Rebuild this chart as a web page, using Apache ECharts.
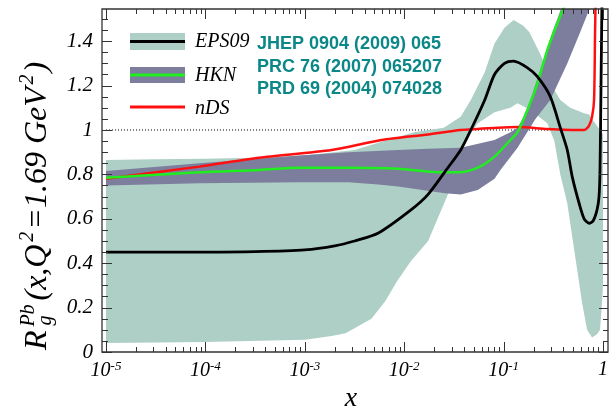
<!DOCTYPE html>
<html>
<head>
<meta charset="utf-8">
<script src="https://cdn.jsdelivr.net/npm/echarts@6.0.0/dist/echarts.min.js"></script>
<style>
html,body{margin:0;padding:0;background:#fff;}
#chart{width:611px;height:409px;}
</style>
</head>
<body>
<div id="chart"></div>
<script>
// ---------------- data ----------------
const xTicksMajor = [1e-5, 1e-4, 1e-3, 1e-2, 1e-1, 1];
const yTicksMajor = [0, 0.2, 0.4, 0.6, 0.8, 1, 1.2, 1.4];
const refLineY = [1];

// EPS09 central value
const eps09X = [1e-5, 1e-4, 3.16e-4, 1e-3, 2e-3, 3.16e-3, 5.5e-3, 1.17e-2, 1.74e-2, 2.75e-2, 3.7e-2, 4.68e-2, 6.46e-2, 8.1e-2, 0.102, 0.126, 0.174, 0.219, 0.295, 0.372, 0.437, 0.49, 0.575, 0.646, 0.724, 0.794, 0.871, 0.912, 0.933, 0.955, 0.977];
const eps09Y = [0.45, 0.45, 0.452, 0.46, 0.478, 0.50, 0.536, 0.64, 0.71, 0.83, 0.91, 1.0, 1.135, 1.25, 1.30, 1.31, 1.28, 1.24, 1.15, 1.01, 0.91, 0.79, 0.67, 0.60, 0.58, 0.59, 0.64, 0.70, 0.82, 1.2, 1.6];

// EPS09 uncertainty band
const eps09UpX = [1e-5, 3.16e-5, 1e-4, 3.16e-4, 1e-3, 3.16e-3, 6.3e-3, 1.26e-2, 2.5e-2, 3.7e-2, 4.68e-2, 6.46e-2, 8.1e-2, 0.102, 0.126, 0.158, 0.182, 0.229, 0.269, 0.324, 0.372, 0.468, 0.646, 0.724, 0.832, 0.933, 1];
const eps09UpY = [0.865, 0.868, 0.87, 0.875, 0.885, 0.91, 0.95, 0.99, 1.01, 1.06, 1.135, 1.26, 1.39, 1.46, 1.495, 1.47, 1.44, 1.35, 1.28, 1.18, 1.135, 1.10, 1.075, 1.07, 1.03, 1.0, 0.98];
const eps09LoX = [1e-5, 1e-4, 1e-3, 1.86e-3, 2.57e-3, 4.68e-3, 6.46e-3, 8.5e-3, 1.17e-2, 1.74e-2, 2.75e-2, 3.7e-2, 5.5e-2, 8.1e-2, 0.117, 0.138, 0.186, 0.275, 0.324, 0.372, 0.437, 0.49, 0.55, 0.617, 0.692, 0.776, 0.871, 0.933, 0.977, 1];
const eps09LoY = [0.04, 0.045, 0.055, 0.072, 0.085, 0.15, 0.23, 0.32, 0.41, 0.50, 0.71, 0.92, 1.03, 1.08, 1.10, 1.12, 1.09, 1.03, 0.95, 0.80, 0.67, 0.52, 0.37, 0.22, 0.10, 0.065, 0.08, 0.10, 0.22, 0.3];

// HKN central value
const hknX = [1e-5, 8.7e-5, 3.47e-4, 8.7e-4, 2.75e-3, 8.7e-3, 2.19e-2, 3.7e-2, 5.5e-2, 8.1e-2, 0.117, 0.138, 0.174, 0.219, 0.275, 0.347, 0.437];
const hknY = [0.785, 0.81, 0.82, 0.83, 0.83, 0.825, 0.81, 0.81, 0.83, 0.88, 0.955, 0.99, 1.09, 1.21, 1.36, 1.48, 1.59];

// HKN uncertainty band
const hknUpX = [1e-5, 8.7e-5, 3.47e-4, 8.7e-4, 2.75e-3, 8.7e-3, 1.74e-2, 3.7e-2, 8.1e-2, 0.117, 0.138, 0.155, 0.186, 0.245, 0.309, 0.389, 0.45];
const hknUpY = [0.815, 0.85, 0.87, 0.885, 0.90, 0.91, 0.915, 0.92, 0.955, 0.99, 1.01, 1.05, 1.135, 1.30, 1.44, 1.56, 1.65];
const hknLoX = [1e-5, 8.7e-5, 8.7e-4, 2.75e-3, 5.5e-3, 8.7e-3, 2.57e-2, 3.7e-2, 5.5e-2, 8.1e-2, 9.3e-2, 0.138, 0.209, 0.295, 0.437, 0.589, 0.724, 0.832];
const hknLoY = [0.75, 0.76, 0.765, 0.765, 0.755, 0.745, 0.715, 0.71, 0.73, 0.78, 0.82, 0.92, 1.05, 1.135, 1.30, 1.44, 1.54, 1.62];

// nDS
const ndsX = [1e-5, 8.7e-5, 3.47e-4, 1.86e-3, 5.9e-3, 1.74e-2, 3.7e-2, 8.7e-2, 0.138, 0.275, 0.589, 0.646, 0.724, 0.776, 0.813, 0.832, 0.851];
const ndsY = [0.78, 0.835, 0.875, 0.91, 0.955, 0.98, 1.0, 1.01, 1.013, 1.005, 1.0, 1.0, 1.02, 1.06, 1.135, 1.44, 1.7];

const legendNames = ['EPS09', 'HKN', 'nDS'];
const refTexts = ['JHEP 0904 (2009) 065', 'PRC 76 (2007) 065207', 'PRD 69 (2004) 074028'];
const xAxisTitle = 'x';

// ---------------- styling ----------------
const C_EPSBAND = '#adcfc6';
const C_HKNBAND = '#7d7d9d';
const C_BLACK = '#000000';
const C_GREEN = '#1fee1f';
const C_RED = '#ff1010';
const C_TEAL = '#0b8787';
const C_FRAME = '#333333';
const SERIF = '"Liberation Serif", "DejaVu Serif", serif';

// minor tick positions
const xTicksMinor = [];
for (let e = -5; e < 0; e++) for (let m = 2; m <= 9; m++) xTicksMinor.push(m * Math.pow(10, e));
const yTicksMinor = [];
for (let k = 1; k <= 30; k++) if (k % 4 !== 0) yTicksMinor.push(Math.round(k * 5) / 100);

const zip = (xs, ys) => xs.map((x, i) => [x, ys[i]]);

function clipPoly(pts, r) {
  const clipEdge = (poly, inside, inter) => {
    const out = [];
    for (let i = 0; i < poly.length; i++) {
      const a = poly[i], b = poly[(i + 1) % poly.length];
      const ia = inside(a), ib = inside(b);
      if (ia && ib) out.push(b);
      else if (ia && !ib) out.push(inter(a, b));
      else if (!ia && ib) { out.push(inter(a, b)); out.push(b); }
    }
    return out;
  };
  const ix = (a, b, x) => [x, a[1] + (b[1] - a[1]) * (x - a[0]) / (b[0] - a[0])];
  const iy = (a, b, y) => [a[0] + (b[0] - a[0]) * (y - a[1]) / (b[1] - a[1]), y];
  let p = pts;
  p = clipEdge(p, q => q[0] >= r.x, (a, b) => ix(a, b, r.x));
  p = clipEdge(p, q => q[0] <= r.x + r.width, (a, b) => ix(a, b, r.x + r.width));
  p = clipEdge(p, q => q[1] >= r.y, (a, b) => iy(a, b, r.y));
  p = clipEdge(p, q => q[1] <= r.y + r.height, (a, b) => iy(a, b, r.y + r.height));
  return p;
}

function bandSeries(name, upX, upY, loX, loY, color) {
  return {
    name: name, type: 'custom', coordinateSystem: 'cartesian2d',
    xAxisIndex: 0, yAxisIndex: 0, silent: true, clip: true, z: 2,
    data: [[upX[0], upY[0]]],
    renderItem: function (params, api) {
      if (params.dataIndex !== 0) return null;
      const pts = [];
      for (let i = 0; i < upX.length; i++) pts.push(api.coord([upX[i], upY[i]]));
      for (let i = loX.length - 1; i >= 0; i--) pts.push(api.coord([loX[i], loY[i]]));
      const cs = params.coordSys;
      const clipped = clipPoly(pts, { x: cs.x, y: cs.y, width: cs.width, height: cs.height });
      return { type: 'polygon', shape: { points: clipped }, style: { fill: color, stroke: null } };
    }
  };
}

function lineSeries(name, xs, ys, color, width) {
  return {
    name: name, type: 'line', xAxisIndex: 0, yAxisIndex: 0, z: 3,
    data: zip(xs, ys), showSymbol: false, symbol: 'none', smooth: 0.25,
    clip: true, lineStyle: { color: color, width: width }, silent: true
  };
}

const xFmt = v => {
  const e = Math.round(Math.log10(v));
  return e === 0 ? '{b|1}' : '{b|10}{s|' + e + '}';
};

// ---------------- y axis title (rotated, with sub/superscripts) ----------------
function buildYTitle() {
  const ctx = document.createElement('canvas').getContext('2d');
  const tw = (t, s) => { ctx.font = 'italic ' + s + 'px "Liberation Serif"'; return ctx.measureText(t).width; };
  const MAIN = 32, SMALL = 20;
  const items = [];
  const txt = (t, s, x, dy) => items.push({ t, s, x, dy });
  const pieces = [
    ['R', MAIN, 'main'],
    ['Pb|g', SMALL, 'supsub'],
    ['(x,Q', MAIN, 'main'],
    ['2', SMALL, 'sup'],
    ['=1.69 GeV', MAIN, 'main'],
    ['2', SMALL, 'sup'],
    [')', MAIN, 'main']
  ];
  const widths = pieces.map(p => p[2] === 'supsub' ? Math.max(tw('Pb', p[1]), tw('g', p[1])) : tw(p[0], p[1]));
  const natural = widths.reduce((a, b) => a + b, 0);
  const TARGET = 294;
  const gap = Math.min(5, Math.max(0, (TARGET - natural) / (pieces.length - 1)));
  let cx = 0;
  pieces.forEach((p, i) => {
    if (p[2] === 'main') txt(p[0], p[1], cx, 0);
    else if (p[2] === 'sup') txt(p[0], p[1], cx - 1, -10);
    else { txt('Pb', p[1], cx, -9); txt('g', p[1], cx + 1, 8); }
    cx += widths[i] + (p[2] === 'sup' ? 1 : gap);
  });
  return {
    type: 'group', x: 38, y: 350, rotation: Math.PI / 2,
    children: items.map(it => ({
      type: 'text', x: it.x, y: it.dy,
      style: {
        text: it.t, fontSize: it.s, fontStyle: 'italic', fontFamily: SERIF, fill: '#000',
        align: 'left', textAlign: 'left', verticalAlign: 'middle', textVerticalAlign: 'middle'
      }
    }))
  };
}

const legendFont = { fontSize: 20, fontStyle: 'italic', fontFamily: SERIF, fill: '#000', align: 'left', textAlign: 'left', verticalAlign: 'middle', textVerticalAlign: 'middle' };
const refFont = { fontSize: 18, fontWeight: 'bold', fontFamily: '"Liberation Sans", Arial, sans-serif', fill: C_TEAL, align: 'left', textAlign: 'left', verticalAlign: 'middle', textVerticalAlign: 'middle' };

const FRAME = { l: 102, r: 608, t: 9, b: 352 };

const baseGraphic = [
  { type: 'rect', z: 100, shape: { x: FRAME.l, y: FRAME.t, width: FRAME.r - FRAME.l, height: FRAME.b - FRAME.t }, style: { fill: null, stroke: C_FRAME, lineWidth: 1.3 } },
  // legend
  { type: 'rect', z: 100, shape: { x: 130, y: 33, width: 55, height: 17 }, style: { fill: C_EPSBAND } },
  { type: 'line', z: 101, shape: { x1: 130, y1: 41.5, x2: 185, y2: 41.5 }, style: { stroke: C_BLACK, lineWidth: 3 } },
  { type: 'rect', z: 100, shape: { x: 130, y: 67, width: 55, height: 16 }, style: { fill: C_HKNBAND } },
  { type: 'line', z: 101, shape: { x1: 130, y1: 75, x2: 185, y2: 75 }, style: { stroke: C_GREEN, lineWidth: 3 } },
  { type: 'line', z: 101, shape: { x1: 130, y1: 107, x2: 185, y2: 107 }, style: { stroke: C_RED, lineWidth: 3 } },
  { type: 'text', z: 101, x: 195, y: 42, style: Object.assign({ text: legendNames[0] }, legendFont) },
  { type: 'text', z: 101, x: 195, y: 76, style: Object.assign({ text: legendNames[1] }, legendFont) },
  { type: 'text', z: 101, x: 195, y: 109, style: Object.assign({ text: legendNames[2] }, legendFont) },
  { type: 'text', z: 101, x: 257, y: 44, style: Object.assign({ text: refTexts[0] }, refFont) },
  { type: 'text', z: 101, x: 257, y: 67, style: Object.assign({ text: refTexts[1] }, refFont) },
  { type: 'text', z: 101, x: 257, y: 89, style: Object.assign({ text: refTexts[2] }, refFont) },
  { type: 'text', z: 101, x: 351, y: 399, style: { text: xAxisTitle, fontSize: 28, fontStyle: 'italic', fontFamily: SERIF, fill: '#000', align: 'center', textAlign: 'center', verticalAlign: 'middle', textVerticalAlign: 'middle' } },
  buildYTitle()
];

const chart = echarts.init(document.getElementById('chart'), null, { renderer: 'canvas' });
chart.setOption({
  animation: false,
  backgroundColor: '#ffffff',
  grid: { left: 106, right: 5, top: 9, bottom: 57, containLabel: false },
  xAxis: {
    type: 'log', logBase: 10, min: 1e-5, max: 1, position: 'bottom',
    axisLine: { show: false, onZero: false },
    axisTick: { show: false },
    axisLabel: {
      show: true, customValues: xTicksMajor, formatter: xFmt, margin: 8,
      rich: {
        b: { fontSize: 20, fontStyle: 'italic', fontFamily: SERIF, color: '#000' },
        s: { fontSize: 13, fontStyle: 'italic', fontFamily: SERIF, color: '#000', verticalAlign: 'top', padding: [0, 0, 8, 0] }
      }
    },
    splitLine: { show: false }, minorTick: { show: false }
  },
  yAxis: {
    type: 'value', min: 0, max: 1.545, position: 'left', offset: 4,
    axisLine: { show: false, onZero: false },
    axisTick: { show: false },
    axisLabel: { show: true, customValues: yTicksMajor, margin: 9, fontSize: 21, fontStyle: 'italic', fontFamily: SERIF, color: '#000' },
    splitLine: { show: false }
  },
  series: [
    {
      name: 'ref', type: 'line', xAxisIndex: 0, yAxisIndex: 0, silent: true, showSymbol: false, symbol: 'none', z: 1,
      data: [[xTicksMajor[0], refLineY[0]], [xTicksMajor[xTicksMajor.length - 1], refLineY[0]]],
      lineStyle: { color: '#000', width: 1, type: [1, 2] }
    },
    bandSeries('EPS09 band', eps09UpX, eps09UpY, eps09LoX, eps09LoY, C_EPSBAND),
    bandSeries('HKN band', hknUpX, hknUpY, hknLoX, hknLoY, C_HKNBAND),
    lineSeries('nDS', ndsX, ndsY, C_RED, 2.5),
    lineSeries('HKN', hknX, hknY, C_GREEN, 2.5),
    lineSeries('EPS09', eps09X, eps09Y, C_BLACK, 2.8)
  ],
  graphic: baseGraphic
});

// ---------------- frame ticks, placed through the axis scales ----------------
const tickEls = [];
const tline = (x1, y1, x2, y2) => tickEls.push({ type: 'line', z: 99, silent: true, shape: { x1, y1, x2, y2 }, style: { stroke: C_FRAME, lineWidth: 1 } });
const snap = v => Math.round(v) + 0.5;
xTicksMajor.forEach(v => { const x = snap(chart.convertToPixel({ xAxisIndex: 0 }, v)); tline(x, FRAME.b, x, FRAME.b - 10); tline(x, FRAME.t, x, FRAME.t + 10); });
xTicksMinor.forEach(v => { const x = snap(chart.convertToPixel({ xAxisIndex: 0 }, v)); tline(x, FRAME.b, x, FRAME.b - 5); tline(x, FRAME.t, x, FRAME.t + 5); });
yTicksMajor.forEach(v => { const y = snap(chart.convertToPixel({ yAxisIndex: 0 }, v)); tline(FRAME.l, y, FRAME.l + 10, y); tline(FRAME.r, y, FRAME.r - 9, y); });
yTicksMinor.forEach(v => { const y = snap(chart.convertToPixel({ yAxisIndex: 0 }, v)); tline(FRAME.l, y, FRAME.l + 6, y); tline(FRAME.r, y, FRAME.r - 5, y); });
chart.setOption({ graphic: baseGraphic.concat(tickEls) });
</script>
</body>
</html>
